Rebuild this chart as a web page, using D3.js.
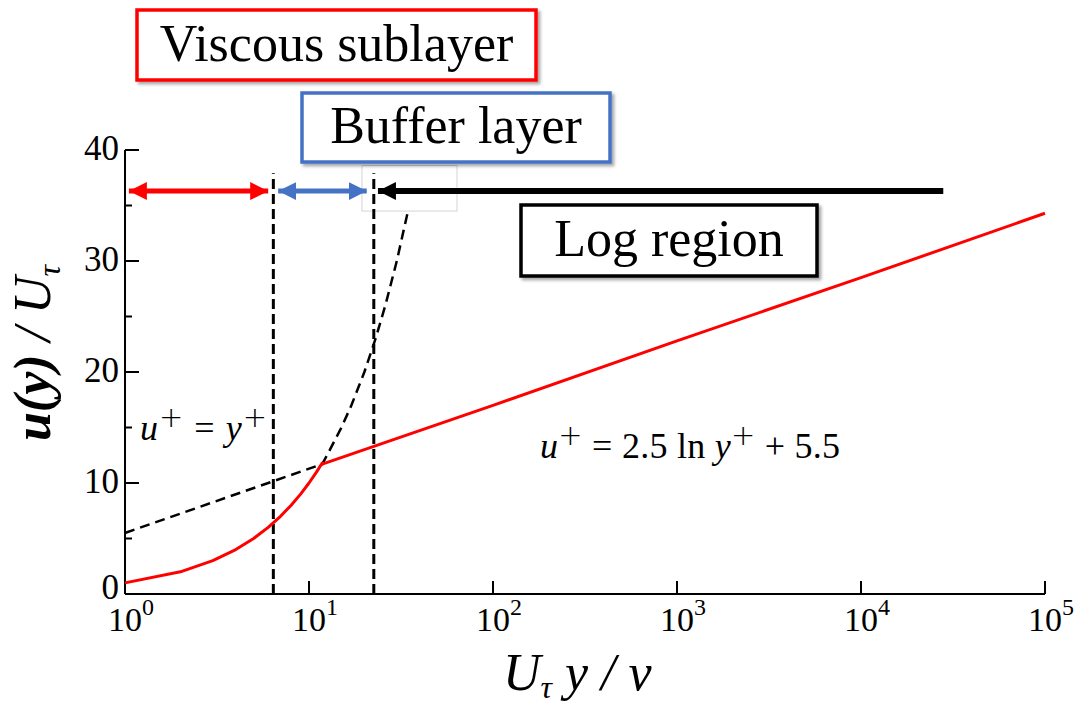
<!DOCTYPE html>
<html lang="en">
<head>
<meta charset="UTF-8">
<title>Law of the wall</title>
<script src="https://d3js.org/d3.v7.min.js"></script>
<style>
  body { margin: 0; background: #fff; }
  svg text { font-family: "Liberation Serif", "Times New Roman", serif; }
</style>
</head>
<body>
<svg id="chart" width="1078" height="704"></svg>
<script>
// ---- data ----
const xTicks = [1, 10, 100, 1000, 10000, 100000];
const xTickExp = ["0", "1", "2", "3", "4", "5"];
const yTicks = [0, 10, 20, 30, 40];
const yMinorTicks = [5, 15, 25, 35];

// viscous sublayer u+ = y+ (red, up to intersection)
const viscousY = [1, 2, 3, 4, 5, 6, 7, 8, 9, 10, 11, 11.8];
const viscousU = [1, 2, 3, 4, 5, 6, 7, 8, 9, 10, 11, 11.8];
// log law u+ = 2.5 ln y+ + 5.5 (red, from intersection on)
const logY = [11.8, 100, 1000, 10000, 100000];
const logU = [11.7, 17.0, 22.8, 28.5, 34.3];
// dashed continuation of both laws
const dashY = [1, 11.8, 13, 15, 17, 20, 23, 26, 30, 34.5];
const dashU = [5.5, 11.7, 13, 15, 17, 20, 23, 26, 30, 34.5];

// region boundaries (vertical dashed lines)
const boundaries = [6.4, 22.5];
// region arrows: [from, to] in y+, at u+ level
const arrowLevel = 36.3;
const viscousArrow = [1.05, 6.0];
const bufferArrow = [6.8, 20.6];
const logArrow = [23.7, 28000];
// faint grey frame near the buffer arrow
const frameX = [19.4, 63.7];
const frameY = [34.5, 38.6];

const svg = d3.select("#chart");
const x = d3.scaleLog().domain([1, 100000]).range([125, 1045]);
const y = d3.scaleLinear().domain([0, 40]).range([594, 150]);

// shadow filter for the boxes
const defs = svg.append("defs");
defs.append("filter").attr("id", "shadow")
  .attr("x", "-10%").attr("y", "-20%").attr("width", "130%").attr("height", "150%")
  .append("feDropShadow")
  .attr("dx", 2.5).attr("dy", 2.5).attr("stdDeviation", 1.5)
  .attr("flood-color", "#000").attr("flood-opacity", 0.35);

function arrowHead(id, color) {
  defs.append("marker").attr("id", id)
    .attr("viewBox", "0 0 10 10").attr("refX", 10).attr("refY", 5)
    .attr("markerUnits", "userSpaceOnUse")
    .attr("markerWidth", 18).attr("markerHeight", 19)
    .attr("orient", "auto-start-reverse")
    .append("path").attr("d", "M0,0 L10,5 L0,10 Z").attr("fill", color);
}
arrowHead("headRed", "#ff0000");
arrowHead("headBlue", "#4472c4");
arrowHead("headBlack", "#000");

// ---- faint frame ----
svg.append("rect")
  .attr("x", x(frameX[0])).attr("y", y(frameY[1]))
  .attr("width", x(frameX[1]) - x(frameX[0]))
  .attr("height", y(frameY[0]) - y(frameY[1]))
  .attr("fill", "none").attr("stroke", "#d4d4d4").attr("stroke-width", 1);

// ---- axes ----
const yAxis = svg.append("g").attr("transform", `translate(${x(1)},0)`);
yAxis.append("line")
  .attr("x1", 0).attr("x2", 0).attr("y1", y(0)).attr("y2", y(40))
  .attr("stroke", "#000").attr("stroke-width", 2);
yAxis.selectAll(".major").data(yTicks).join("line")
  .attr("x1", 0).attr("x2", 14).attr("y1", d => y(d)).attr("y2", d => y(d))
  .attr("stroke", "#000").attr("stroke-width", 2);
yAxis.selectAll(".minor").data(yMinorTicks).join("line")
  .attr("x1", 0).attr("x2", 7).attr("y1", d => y(d)).attr("y2", d => y(d))
  .attr("stroke", "#000").attr("stroke-width", 2);
yAxis.selectAll("text").data(yTicks).join("text")
  .attr("x", -6).attr("y", d => y(d) + (d === 0 ? 5 : 10))
  .attr("text-anchor", "end").attr("font-size", 35)
  .text(d => d);

const xAxis = svg.append("g");
xAxis.append("line")
  .attr("x1", x(1)).attr("x2", x(100000)).attr("y1", y(0)).attr("y2", y(0))
  .attr("stroke", "#000").attr("stroke-width", 2);
xAxis.selectAll("line.tick").data(xTicks).join("line")
  .attr("class", "tick")
  .attr("x1", d => x(d)).attr("x2", d => x(d))
  .attr("y1", y(0)).attr("y2", y(0) - 13)
  .attr("stroke", "#000").attr("stroke-width", 2);
const xl = xAxis.selectAll("text").data(xTicks).join("text")
  .attr("x", d => x(d) - 17).attr("y", 631)
  .attr("font-size", 34);
xl.append("tspan").text("10");
xl.append("tspan").attr("dy", -16).attr("font-size", 24)
  .text((d, i) => xTickExp[i]);

// axis titles
const yt = svg.append("text")
  .attr("transform", "translate(50,353) rotate(-90)")
  .attr("text-anchor", "middle").attr("font-size", 52)
  .attr("font-style", "italic");
yt.append("tspan").attr("font-weight", "bold").text("u(y)");
yt.append("tspan").text(" / U");
yt.append("tspan").attr("font-size", 32).attr("dy", 10).text("τ");

const xt = svg.append("text")
  .attr("x", 503).attr("y", 690)
  .attr("font-size", 52).attr("font-style", "italic");
xt.append("tspan").text("U");
xt.append("tspan").attr("font-size", 32).attr("dy", 8).text("τ");
xt.append("tspan").attr("dy", -8).text(" y / ν");

// ---- boundary lines ----
svg.selectAll(".bound").data(boundaries).join("line")
  .attr("x1", d => x(d)).attr("x2", d => x(d))
  .attr("y1", y(0)).attr("y2", y(37.9))
  .attr("stroke", "#000").attr("stroke-width", 3)
  .attr("stroke-dasharray", "10,5");

// ---- curves ----
const line = d3.line().x(d => x(d[0])).y(d => y(d[1]));
svg.append("path")
  .datum(dashY.map((v, i) => [v, dashU[i]]))
  .attr("d", line).attr("fill", "none")
  .attr("stroke", "#000").attr("stroke-width", 2.5)
  .attr("stroke-dasharray", "10,6");
svg.append("path")
  .datum(viscousY.map((v, i) => [v, viscousU[i]]).concat(logY.map((v, i) => [v, logU[i]])))
  .attr("d", line).attr("fill", "none")
  .attr("stroke", "#ff0000").attr("stroke-width", 3)
  .attr("stroke-linejoin", "round");

// ---- region arrows ----
function arrowFull(r, color, marker, both, width) {
  const l = svg.append("line")
    .attr("x1", x(r[1])).attr("x2", x(r[0]))
    .attr("y1", y(arrowLevel)).attr("y2", y(arrowLevel))
    .attr("stroke", color).attr("stroke-width", width)
    .attr("marker-end", `url(#${marker})`);
  if (both) l.attr("marker-start", `url(#${marker})`);
}
arrowFull(viscousArrow, "#ff0000", "headRed", true, 5);
arrowFull(bufferArrow, "#4472c4", "headBlue", true, 5);
arrowFull(logArrow, "#000", "headBlack", false, 6);

// ---- equations ----
function sup(t, s) {
  t.append("tspan").attr("dy", -13).attr("font-size", 29)
    .attr("font-family", "DejaVu Sans").attr("font-weight", 300).text(s);
}
const eq1 = svg.append("text").attr("x", 140).attr("y", 440)
  .attr("font-size", 36).attr("textLength", 127).attr("lengthAdjust", "spacing");
eq1.append("tspan").attr("font-style", "italic").text("u");
sup(eq1, "+");
eq1.append("tspan").attr("dy", 13).text(" = ");
eq1.append("tspan").attr("font-style", "italic").text("y");
sup(eq1, "+");

const eq2 = svg.append("text").attr("x", 540).attr("y", 458)
  .attr("font-size", 36).attr("textLength", 300).attr("lengthAdjust", "spacing");
eq2.append("tspan").attr("font-style", "italic").text("u");
sup(eq2, "+");
eq2.append("tspan").attr("dy", 13).text(" = 2.5 ln ");
eq2.append("tspan").attr("font-style", "italic").text("y");
sup(eq2, "+");
eq2.append("tspan").attr("dy", 13).text(" + 5.5");

// ---- labelled boxes ----
const boxes = [
  { label: "Viscous sublayer", color: "#ff0000", x0: 137, x1: 536, y0: 10, y1: 80, base: 61 },
  { label: "Buffer layer", color: "#4472c4", x0: 302, x1: 610, y0: 93, y1: 162, base: 143 },
  { label: "Log region", color: "#000", x0: 521, x1: 817, y0: 205, y1: 276, base: 256 }
];
const bg = svg.selectAll(".box").data(boxes).join("g").attr("filter", "url(#shadow)");
bg.append("rect")
  .attr("x", d => d.x0).attr("y", d => d.y0)
  .attr("width", d => d.x1 - d.x0).attr("height", d => d.y1 - d.y0)
  .attr("fill", "#fff").attr("stroke", d => d.color).attr("stroke-width", 3.5);
bg.append("text")
  .attr("x", d => (d.x0 + d.x1) / 2).attr("y", d => d.base)
  .attr("text-anchor", "middle").attr("font-size", 52)
  .text(d => d.label);
</script>
</body>
</html>
